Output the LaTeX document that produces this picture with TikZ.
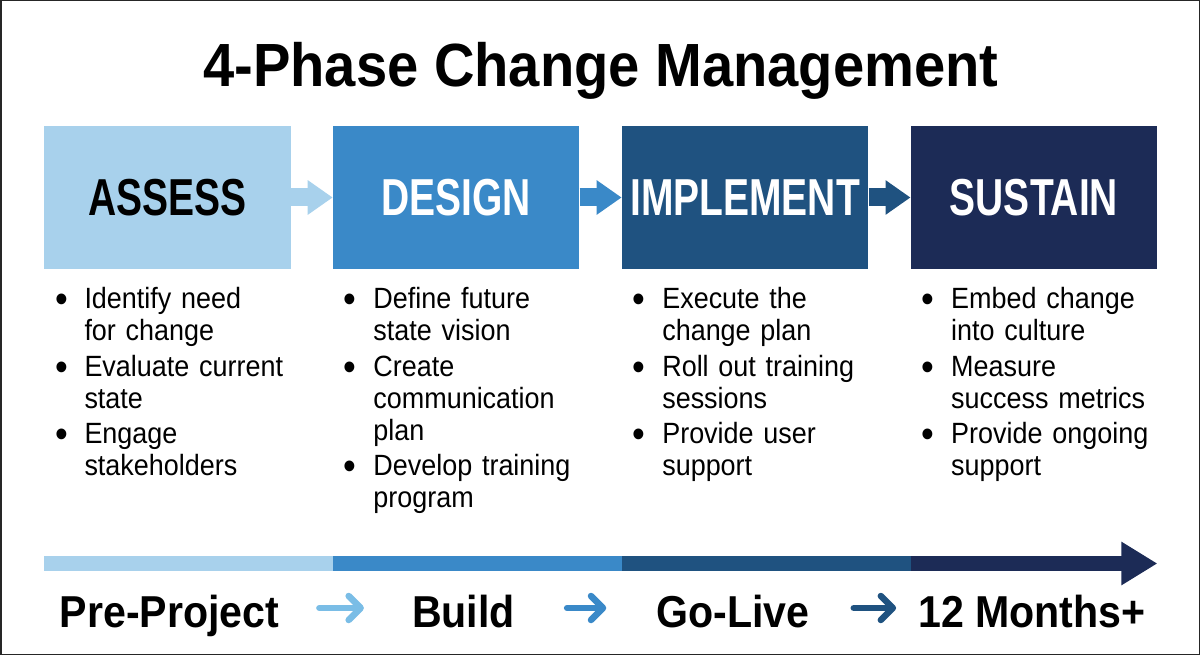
\documentclass[tikz,border=0pt]{standalone}
\usepackage{fontspec}
\usepackage{xcolor}
\usepackage{tikz}
\usetikzlibrary{arrows.meta, positioning}

\setmainfont{Liberation Sans}
\newfontfamily\titlefont{Liberation Sans}[FakeStretch=0.92]
\newfontfamily\phasefont{Liberation Sans}[FakeStretch=0.75]
\newfontfamily\bodyfont{Liberation Sans}[FakeStretch=0.92]

\definecolor{assesscol}{RGB}{168,209,236}
\definecolor{designcol}{RGB}{58,137,200}
\definecolor{implcol}{RGB}{31,82,128}
\definecolor{sustaincol}{RGB}{28,43,86}
\definecolor{lightarrow}{RGB}{122,189,230}

\newcommand{\phaseitem}[1]{\par\hangindent=28pt\hangafter=1\noindent\hbox to 28pt{\hspace{-1.5pt}\raisebox{-4pt}{\scalebox{1.35}{\textbullet}}\hfil}#1\par}

\begin{document}
\begin{tikzpicture}[
    x=1pt, y=-1pt,
    phase/.style={rectangle, minimum width=246.5pt, minimum height=142.5pt, inner sep=0pt, font=\phasefont\bfseries\fontsize{52}{52}\selectfont},
    bullets/.style={text width=250pt, align=left, inner sep=0pt, font=\bodyfont\fontsize{29.3}{32}\selectfont\setlength{\parskip}{3.5pt}},
    boxarrow/.style={line width=18pt, -{Triangle[length=25pt, width=33pt]}},
    stage/.style={anchor=base, inner sep=0pt, font=\titlefont\bfseries\fontsize{44.7}{44.7}\selectfont},
    stagearrow/.style={line width=6.5pt, line cap=round, -{Straight Barb[length=12pt, width=24pt, line cap=round, line join=round]}}
]
\useasboundingbox (0,0) rectangle (1200,655);
\draw[line width=1.5pt, black!85] (0.75,0.75) rectangle (1199.25,654.25);

% Title
\node[anchor=base, inner sep=0pt, font=\titlefont\bfseries\fontsize{61}{61}\selectfont] (title) at (601,87) {4-Phase Change Management};

% Phase boxes
\node[phase, fill=assesscol, text=black] (assess) at (167.25,197.5) {ASSESS};
\node[phase, fill=designcol, text=white, right=42pt of assess] (design) {DESIGN};
\node[phase, fill=implcol, text=white, right=42pt of design] (implement) {IMPLEMENT};
\node[phase, fill=sustaincol, text=white, right=42pt of implement] (sustain) {SUSTAIN};

% Arrows between phases
\draw[boxarrow, assesscol] (assess) -- (design);
\draw[boxarrow, designcol] (design) -- (implement);
\draw[boxarrow, implcol] (implement) -- (sustain);

% Activities
\node[bullets, below right=4pt and 12.5pt of assess.south west] (assesslist) {%
  \phaseitem{Identify need\newline for change}
  \phaseitem{Evaluate current\newline state}
  \phaseitem{Engage\newline stakeholders}};
\node[bullets, below right=4pt and 12.5pt of design.south west] (designlist) {%
  \phaseitem{Define future\newline state vision}
  \phaseitem{Create\newline communication\newline plan}
  \phaseitem{Develop training\newline program}};
\node[bullets, below right=4pt and 12.5pt of implement.south west] (implementlist) {%
  \phaseitem{Execute the\newline change plan}
  \phaseitem{Roll out training\newline sessions}
  \phaseitem{Provide user\newline support}};
\node[bullets, below right=4pt and 12.5pt of sustain.south west] (sustainlist) {%
  \phaseitem{Embed change\newline into culture}
  \phaseitem{Measure\newline success metrics}
  \phaseitem{Provide ongoing\newline support}};

% Timeline bar
\coordinate (bartop) at (0,556);
\coordinate (barbot) at (0,571);
\coordinate (barmid) at (0,563.5);
\fill[assesscol] (assess.west |- bartop) rectangle (design.west |- barbot);
\fill[designcol] (design.west |- bartop) rectangle (implement.west |- barbot);
\fill[implcol] (implement.west |- bartop) rectangle (sustain.west |- barbot);
\draw[line width=15pt, sustaincol, -{Triangle[length=36pt, width=41pt]}] (sustain.west |- barmid) -- (sustain.east |- barmid);

% Timeline stages
\node[stage] (pre) at (169.5,627) {Pre-Project};
\node[stage] (build) at (463.5,627) {Build};
\node[stage] (golive) at (733,627) {Go-Live};
\node[stage] (months) at (1032,627) {12 Months+};

\draw[stagearrow, lightarrow] ([xshift=40pt, yshift=19pt]pre.base east) -- ([xshift=-48pt, yshift=19pt]build.base west);
\draw[stagearrow, designcol] ([xshift=52pt, yshift=19pt]build.base east) -- ([xshift=-50pt, yshift=19pt]golive.base west);
\draw[stagearrow, implcol] ([xshift=44pt, yshift=19pt]golive.base east) -- ([xshift=-22pt, yshift=19pt]months.base west);

\end{tikzpicture}
\end{document}
